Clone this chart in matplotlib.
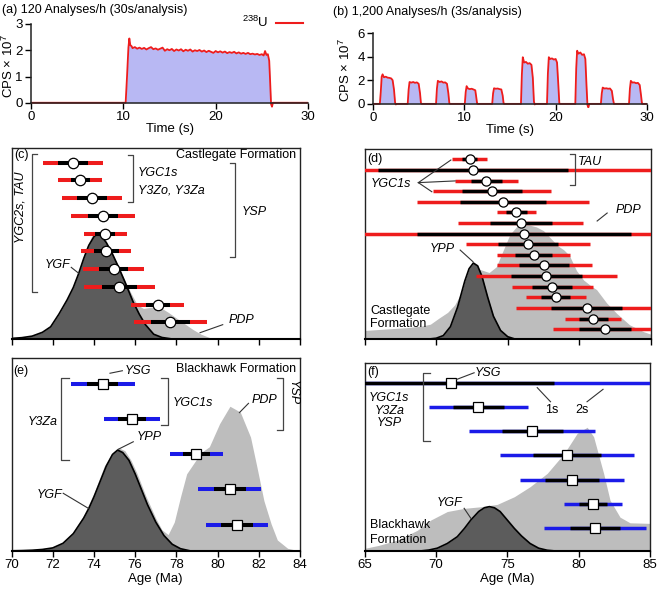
import matplotlib

matplotlib.use("Agg")
import matplotlib.pyplot as plt
import numpy as np

plt.rcParams["font.family"] = ["Liberation Sans", "DejaVu Sans"]
plt.rcParams["font.size"] = 9
plt.rcParams["mathtext.fontset"] = "custom"
plt.rcParams["mathtext.rm"] = "Liberation Sans"

RED = "#ee1c1c"
BLUE = "#1b1be8"
DARK = "#5c5c5c"
LIGHT = "#bdbdbd"
FILL = "#b8b8f3"
LINE = "#333333"

# (a) single 30 s analysis, 238U counts (x 1e7)
a_time = [0.0, 10.25, 10.4, 10.55, 10.65, 10.75, 10.9,
          11.0, 11.25, 11.5, 11.75, 12.0, 12.25, 12.5, 12.75,
          13.0, 13.25, 13.5, 13.75, 14.0, 14.25, 14.5, 14.75,
          15.0, 15.25, 15.5, 15.75, 16.0, 16.25, 16.5, 16.75,
          17.0, 17.25, 17.5, 17.75, 18.0, 18.25, 18.5, 18.75,
          19.0, 19.25, 19.5, 19.75, 20.0, 20.25, 20.5, 20.75,
          21.0, 21.25, 21.5, 21.75, 22.0, 22.25, 22.5, 22.75,
          23.0, 23.25, 23.5, 23.75, 24.0, 24.25, 24.5, 24.75,
          25.0, 25.2, 25.35, 25.5, 25.65, 25.8, 25.9, 26.0, 26.1, 26.2, 30.0]
a_cps = [0.0, 0.0, 1.0, 2.1, 2.45, 2.2, 2.15,
         2.08, 2.12, 2.06, 2.10, 2.05, 2.09, 2.03, 2.08,
         2.12, 2.04, 2.07, 2.02, 2.06, 2.10, 1.98, 2.04,
         2.00, 2.05, 1.97, 2.03, 1.99, 2.04, 1.96, 2.02,
         1.98, 2.03, 1.95, 2.00, 1.97, 2.01, 1.95, 1.99,
         1.93, 1.98, 1.94, 1.90, 1.97, 1.92, 1.96, 1.91,
         1.95, 1.89, 1.93, 1.90, 1.94, 1.88, 1.92, 1.87,
         1.90, 1.86, 1.90, 1.85, 1.87, 1.84, 1.86, 1.82,
         1.85, 1.80, 1.97, 1.82, 1.85, 1.60, 0.80, -0.05, -0.15, 0.0, 0.0]

# (b) ten 3 s analyses
b_time = [0.0, 0.75, 0.85, 0.95, 1.05, 1.2, 1.4, 1.6, 1.8, 2.0, 2.15, 2.3, 2.42, 2.5, 2.6,
          3.8, 3.9, 4.0, 4.2, 4.4, 4.6, 4.8, 5.0, 5.15, 5.25, 5.35,
          6.9, 7.0, 7.1, 7.3, 7.5, 7.7, 7.9, 8.1, 8.25, 8.36, 8.45,
          10.05, 10.15, 10.25, 10.4, 10.6, 10.8, 11.0, 11.2, 11.3, 11.4, 11.5,
          13.05, 13.15, 13.25, 13.45, 13.65, 13.85, 14.05, 14.2, 14.3, 14.4,
          16.2, 16.3, 16.4, 16.55, 16.75, 16.95, 17.15, 17.35, 17.5, 17.62, 17.7, 17.8,
          19.05, 19.15, 19.25, 19.4, 19.6, 19.8, 20.0, 20.15, 20.3, 20.4, 20.5,
          22.15, 22.25, 22.35, 22.5, 22.7, 22.9, 23.1, 23.25, 23.38, 23.48, 23.58, 23.68,
          24.95, 25.05, 25.15, 25.35, 25.55, 25.75, 25.95, 26.15, 26.28, 26.38, 26.5,
          28.03, 28.13, 28.23, 28.4, 28.6, 28.8, 29.0, 29.2, 29.35, 29.45, 29.55, 30.0]
b_cps = [0.0, 0.0, 1.0, 2.3, 2.5, 2.25, 2.3, 2.22, 2.2, 2.15, 2.0, 1.2, 0.1, -0.05, 0.0,
         0.0, 1.2, 1.85, 1.8, 1.85, 1.78, 1.82, 1.7, 0.9, 0.05, 0.0,
         0.0, 1.3, 1.95, 1.85, 1.9, 1.8, 1.82, 1.7, 0.9, 0.05, 0.0,
         0.0, 1.0, 1.5, 1.3, 1.25, 1.28, 1.22, 1.15, 0.6, 0.02, 0.0,
         0.0, 0.9, 1.32, 1.28, 1.3, 1.25, 1.22, 0.7, 0.03, 0.0,
         0.0, 2.5, 3.95, 3.5, 3.55, 3.4, 3.45, 3.3, 2.2, 0.2, -0.05, 0.0,
         0.0, 2.6, 3.95, 3.8, 3.85, 3.75, 3.8, 3.5, 1.5, 0.05, 0.0,
         0.0, 3.0, 4.5, 4.25, 4.35, 4.15, 4.2, 3.8, 1.5, -0.1, -0.3, 0.0,
         0.0, 0.9, 1.38, 1.3, 1.32, 1.28, 1.3, 1.1, 0.4, 0.0, 0.0,
         0.0, 1.3, 1.95, 1.8, 1.82, 1.75, 1.78, 1.6, 0.7, 0.02, 0.0, 0.0]

# (c) Castlegate, 30 s analyses: age, 1s, 2s (Ma)
c_age = [73.0, 73.33, 73.90, 74.43, 74.55, 74.59, 74.95, 75.24, 77.09, 77.71]
c_1s = [0.73, 0.46, 0.72, 0.73, 0.49, 0.61, 0.68, 0.85, 0.58, 0.93]
c_2s = [1.46, 1.05, 1.45, 1.54, 1.05, 1.20, 1.48, 1.73, 1.28, 1.77]
c_pdp_age = [70.0, 70.5, 71.0, 71.5, 72.0, 72.4, 72.7, 73.0, 73.3, 73.6, 73.9, 74.15, 74.4,
             74.7, 75.0, 75.4, 75.8, 76.1, 76.4, 76.7, 77.0, 77.3, 77.6, 78.0, 78.4, 78.8,
             79.2, 79.6, 80.0, 84.0]
c_pdp = [0.004, 0.008, 0.018, 0.038, 0.08, 0.14, 0.21, 0.28, 0.37, 0.47, 0.54, 0.555, 0.53,
         0.48, 0.42, 0.33, 0.24, 0.18, 0.16, 0.165, 0.17, 0.16, 0.14, 0.11, 0.08, 0.05,
         0.025, 0.008, 0.0, 0.0]
c_ygf_age = [70.0, 70.5, 71.0, 71.5, 71.9, 72.3, 72.7, 73.0, 73.25, 73.5, 73.75, 74.0, 74.15,
             74.35, 74.6, 74.9, 75.2, 75.5, 75.9, 76.2, 76.5, 76.9, 77.3, 77.8, 84.0]
c_ygf = [0.003, 0.007, 0.015, 0.035, 0.064, 0.13, 0.205, 0.27, 0.34, 0.42, 0.49, 0.535, 0.548,
         0.54, 0.505, 0.445, 0.375, 0.3, 0.195, 0.13, 0.075, 0.025, 0.008, 0.0, 0.0]

# (d) Castlegate, 3 s analyses
d_age = [72.34, 72.57, 73.51, 73.90, 74.67, 75.61, 75.91, 76.15, 76.43, 76.82, 77.54,
         77.70, 78.12, 78.36, 80.50, 80.97, 81.78]
d_1s = [0.52, 6.64, 1.10, 2.07, 3.03, 0.70, 2.16, 7.46, 2.10, 1.28, 1.72, 2.45, 1.40, 1.01,
        2.45, 1.01, 1.81]
d_2s = [1.22, 13.3, 2.19, 4.14, 6.0, 1.34, 4.37, 14.9, 4.31, 2.56, 3.32, 4.9, 2.82, 2.12,
        4.9, 1.95, 3.6]
d_pdp_age = [65.0, 66.0, 67.0, 68.0, 69.0, 69.6, 70.2, 70.8, 71.3, 71.8, 72.3, 72.9, 73.3,
             73.7, 74.2, 74.7, 75.15, 75.6, 76.0, 76.5, 77.0, 77.5, 78.0, 78.5, 78.9, 79.3,
             79.8, 80.3, 80.8, 81.2, 81.9, 82.6, 83.5, 84.5, 85.0]
d_pdp = [0.045, 0.05, 0.055, 0.06, 0.068, 0.078, 0.11, 0.14, 0.18, 0.25, 0.33, 0.37, 0.36,
         0.35, 0.38, 0.47, 0.55, 0.59, 0.60, 0.60, 0.59, 0.57, 0.53, 0.49, 0.47, 0.44, 0.36,
         0.31, 0.28, 0.26, 0.19, 0.135, 0.075, 0.038, 0.025]
d_ypp_age = [65.0, 69.5, 70.0, 70.5, 71.0, 71.5, 72.0, 72.3, 72.6, 72.9, 73.2, 73.6, 74.0,
             74.5, 75.0, 75.5, 85.0]
d_ypp = [0.0, 0.0, 0.004, 0.018, 0.065, 0.168, 0.305, 0.37, 0.40, 0.385, 0.33, 0.22, 0.12,
         0.045, 0.012, 0.0, 0.0]

# (e) Blackhawk, 30 s analyses
e_age = [74.43, 75.84, 78.97, 80.59, 80.95]
e_1s = [0.75, 0.69, 0.67, 0.77, 0.77]
e_2s = [1.54, 1.36, 1.27, 1.54, 1.50]
e_pdp_age = [70.0, 71.0, 72.0, 72.5, 73.0, 73.5, 74.0, 74.5, 74.9, 75.2, 75.5, 75.8, 76.1,
             76.5, 77.0, 77.3, 77.6, 77.9, 78.2, 78.5, 79.2, 79.6, 80.1, 80.6, 81.1, 81.6,
             81.9, 82.25, 82.6, 82.9, 83.4, 84.0]
e_pdp = [0.001, 0.005, 0.02, 0.045, 0.1, 0.185, 0.30, 0.44, 0.51, 0.535, 0.52, 0.47, 0.40,
         0.29, 0.17, 0.11, 0.085, 0.15, 0.28, 0.40, 0.51, 0.54, 0.66, 0.75, 0.72, 0.59, 0.44,
         0.26, 0.14, 0.057, 0.014, 0.0]
e_ygf_age = [70.0, 70.5, 71.0, 71.5, 72.0, 72.5, 73.0, 73.5, 73.75, 74.0, 74.3, 74.6, 74.9,
             75.15, 75.4, 75.7, 76.0, 76.3, 76.6, 77.0, 77.4, 77.8, 78.2, 78.7, 84.0]
e_ygf = [0.001, 0.002, 0.004, 0.008, 0.016, 0.04, 0.09, 0.17, 0.22, 0.28, 0.36, 0.44, 0.50,
         0.523, 0.51, 0.47, 0.40, 0.32, 0.24, 0.15, 0.08, 0.035, 0.012, 0.0, 0.0]

# (f) Blackhawk, 3 s analyses
f_age = [71.05, 72.98, 76.75, 79.19, 79.54, 81.00, 81.17]
f_1s = [7.21, 1.80, 2.13, 2.37, 1.88, 0.99, 1.74]
f_2s = [14.4, 3.49, 4.42, 4.67, 3.67, 2.03, 3.57]
f_pdp_age = [65.0, 66.0, 67.3, 68.7, 69.65, 70.8, 72.0, 73.1, 74.3, 75.5, 76.6, 77.8, 79.0,
             79.9, 80.6, 81.05, 81.75, 82.2, 82.9, 83.6, 85.0]
f_pdp = [0.014, 0.03, 0.058, 0.11, 0.165, 0.21, 0.227, 0.235, 0.248, 0.289, 0.342, 0.413,
         0.52, 0.626, 0.658, 0.608, 0.413, 0.27, 0.18, 0.15, 0.147]
f_ygf_age = [65.0, 69.0, 69.5, 70.1, 70.8, 71.5, 72.0, 72.45, 73.0, 73.4, 73.75, 74.1, 74.5,
             75.0, 75.5, 76.0, 76.6, 77.2, 77.8, 78.4, 85.0]
f_ygf = [0.0, 0.001, 0.005, 0.015, 0.04, 0.076, 0.12, 0.165, 0.21, 0.23, 0.236, 0.23, 0.21,
         0.165, 0.12, 0.08, 0.04, 0.015, 0.004, 0.0, 0.0]


def signal_axis(ax, t, v, yticks, label_x):
    t = np.asarray(t)
    v = np.asarray(v)
    ax.fill_between(t, np.maximum(v, 0), 0, color=FILL, lw=0)
    ax.plot(t, v, color=RED, lw=1.3, solid_joinstyle="round")
    ax.set_xlim(0, 30)
    ax.set_xticks([0, 10, 20, 30])
    ax.set_yticks(yticks)
    ax.spines[["top", "right"]].set_visible(False)
    ax.spines["bottom"].set_position(("data", 0))
    ax.spines["left"].set_bounds(yticks[0], yticks[-1])
    for s in ("left", "bottom"):
        ax.spines[s].set_color("#222")
        ax.spines[s].set_linewidth(1.1)
        ax.spines[s].set_zorder(5)
    ax.tick_params(direction="out", length=4, width=1, labelsize=9.5, pad=2)
    ax.set_xlabel("Time (s)", fontsize=9.5, labelpad=0)
    ax.set_ylabel("CPS × 10$^7$", fontsize=9.5)
    ax.yaxis.set_label_coords(label_x, 0.5)


def age_axis(ax, lo, hi, step, labels):
    ax.set_xlim(lo, hi)
    ax.set_ylim(0, 1)
    ax.set_yticks([])
    ax.set_xticks(np.arange(lo, hi + 0.1, step))
    ax.tick_params(axis="x", direction="out", length=4, width=1, labelsize=9.5, pad=2)
    if not labels:
        ax.set_xticklabels([])
    else:
        ax.set_xlabel("Age (Ma)", fontsize=9.5, labelpad=1)
    for s in ax.spines.values():
        s.set_linewidth(1)
        s.set_color("#222")
    ax.spines["bottom"].set_linewidth(1.5)
    ax.spines["bottom"].set_color("black")


def densities(ax, px, py, gx, gy):
    ax.fill_between(px, py, 0, color=LIGHT, lw=0, zorder=1)
    ax.fill_between(gx, gy, 0, color=DARK, lw=0, zorder=2)
    ax.plot(gx, gy, color="black", lw=1.2, zorder=2.5)


def grains(ax, ages, e1, e2, top, step, color, marker, ms, lw):
    ys = top - step * np.arange(len(ages))
    for i, (a, s1, s2, y) in enumerate(zip(ages, e1, e2, ys)):
        z = 3 + i * 0.1
        ax.hlines(y, a - s2, a + s2, color=color, lw=lw, zorder=z)
        ax.hlines(y, a - s1, a + s1, color="black", lw=lw, zorder=z + 0.01)
        ax.plot([a], [y], marker=marker, ms=ms, mfc="white", mec="black", mew=0.9,
                zorder=z + 0.02)


def bracket(ax, x, y0, y1, tick):
    ax.plot([x + tick, x, x, x + tick], [y0, y0, y1, y1], color="#444", lw=0.9, zorder=6)


def leader(ax, p0, p1):
    ax.plot([p0[0], p1[0]], [p0[1], p1[1]], color=LINE, lw=0.8, zorder=6)


def label(ax, x, y, s, ha="left", italic=True, **kw):
    ax.text(x, y, s, ha=ha, va="center", fontsize=9, style="italic" if italic else "normal",
            zorder=7, **kw)


fig = plt.figure(figsize=(6.58, 5.89), dpi=100)
W, H = 658, 589


def add_axes(x0, x1, y0, y1):
    return fig.add_axes([x0 / W, 1 - y1 / H, (x1 - x0) / W, (y1 - y0) / H])


# (a)
ax_a = add_axes(31, 308, 24, 108)
signal_axis(ax_a, a_time, a_cps, [0, 1, 2, 3], -0.055)
ax_a.set_ylim(-0.2, 3.0)
ax_a.plot([], [], color=RED, lw=1.5, label="$^{238}$U")
ax_a.legend(loc="upper right", bbox_to_anchor=(0.985, 1.12), frameon=False, markerfirst=False,
            fontsize=9.5, handlelength=2.0, handletextpad=0.6, borderpad=0.1, borderaxespad=0)
fig.text(2 / W, 1 - 10 / H, "(a) 120 Analyses/h (30s/analysis)", fontsize=9, va="center")

# (b)
ax_b = add_axes(373, 647, 33, 108)
signal_axis(ax_b, b_time, b_cps, [0, 2, 4, 6], -0.072)
ax_b.set_ylim(-0.35, 6.0)
fig.text(333 / W, 1 - 12.5 / H, "(b) 1,200 Analyses/h (3s/analysis)", fontsize=9, va="center")

# (c)
ax_c = add_axes(11.5, 300, 148, 339)
age_axis(ax_c, 70, 84, 2, False)
densities(ax_c, c_pdp_age, c_pdp, c_ygf_age, c_ygf)
grains(ax_c, c_age, c_1s, c_2s, 0.923, 0.0928, RED, "o", 7.5, 2.9)
label(ax_c, 70.12, 0.963, "(c)", italic=False)
label(ax_c, 83.8, 0.963, "Castlegate Formation", ha="right", italic=False)
bracket(ax_c, 70.98, 0.969, 0.248, 0.25)
ax_c.text(70.45, 0.688, "YGC2s, TAU", rotation=90, ha="center", va="center", fontsize=9,
          style="italic")
bracket(ax_c, 75.88, 0.963, 0.719, -0.25)
label(ax_c, 76.14, 0.869, "YGC1s")
label(ax_c, 76.14, 0.78, "Y3Zo, Y3Za")
bracket(ax_c, 80.85, 0.923, 0.431, -0.25)
label(ax_c, 81.17, 0.666, "YSP")
label(ax_c, 72.85, 0.39, "YGF", ha="right")
leader(ax_c, (72.9, 0.375), (73.25, 0.345))
label(ax_c, 80.55, 0.10, "PDP")
leader(ax_c, (79.15, 0.033), (80.25, 0.075))

# (d)
ax_d = add_axes(364.5, 651, 149, 339)
age_axis(ax_d, 65, 85, 5, False)
densities(ax_d, d_pdp_age, d_pdp, d_ypp_age, d_ypp)
grains(ax_d, d_age, d_1s, d_2s, 0.946, 0.0559, RED, "o", 6.6, 2.5)
label(ax_d, 65.2, 0.946, "(d)", italic=False)
bracket(ax_d, 79.72, 0.974, 0.81, -0.35)
label(ax_d, 79.93, 0.933, "TAU")
label(ax_d, 65.45, 0.814, "YGC1s")
for tip in [(71.03, 0.942), (71.33, 0.832), (69.7, 0.775)]:
    leader(ax_d, (68.76, 0.823), tip)
label(ax_d, 82.5, 0.679, "PDP")
leader(ax_d, (81.24, 0.621), (81.94, 0.663))
label(ax_d, 71.3, 0.472, "YPP", ha="right")
leader(ax_d, (71.68, 0.468), (72.57, 0.407))
label(ax_d, 65.38, 0.149, "Castlegate", italic=False)
label(ax_d, 65.38, 0.079, "Formation", italic=False)

# (e)
ax_e = add_axes(11.5, 300, 358, 551)
age_axis(ax_e, 70, 84, 2, True)
densities(ax_e, e_pdp_age, e_pdp, e_ygf_age, e_ygf)
grains(ax_e, e_age, e_1s, e_2s, 0.865, 0.182, BLUE, "s", 7.2, 2.9)
label(ax_e, 70.1, 0.934, "(e)", italic=False)
label(ax_e, 83.8, 0.941, "Blackhawk Formation", ha="right", italic=False)
label(ax_e, 75.5, 0.934, "YSG")
leader(ax_e, (74.78, 0.921), (75.38, 0.934))
bracket(ax_e, 72.4, 0.895, 0.472, 0.4)
label(ax_e, 70.8, 0.67, "Y3Za")
bracket(ax_e, 77.58, 0.895, 0.653, -0.32)
label(ax_e, 77.8, 0.768, "YGC1s")
bracket(ax_e, 83.19, 0.895, 0.627, -0.3)
ax_e.text(83.65, 0.819, "YSP", rotation=270, ha="center", va="center", fontsize=9,
          style="italic")
label(ax_e, 81.66, 0.782, "PDP")
leader(ax_e, (81.06, 0.717), (81.5, 0.765))
label(ax_e, 76.08, 0.589, "YPP")
leader(ax_e, (75.18, 0.527), (75.91, 0.566))
label(ax_e, 71.22, 0.29, "YGF")
leader(ax_e, (72.51, 0.299), (73.73, 0.221))

# (f)
ax_f = add_axes(364.5, 650, 363, 551)
age_axis(ax_f, 65, 85, 5, True)
densities(ax_f, f_pdp_age, f_pdp, f_ygf_age, f_ygf)
grains(ax_f, f_age, f_1s, f_2s, 0.892, 0.128, BLUE, "s", 6.8, 2.5)
label(ax_f, 65.2, 0.954, "(f)", italic=False)
label(ax_f, 72.72, 0.948, "YSG")
leader(ax_f, (71.47, 0.913), (72.68, 0.948))
bracket(ax_f, 69.08, 0.948, 0.587, 0.5)
ax_f.text(66.74, 0.746, "YGC1s\nY3Za\nYSP", ha="center", va="center", fontsize=9,
          style="italic", linespacing=1.05, zorder=7)
label(ax_f, 78.15, 0.75, "1s", ha="center", italic=False)
leader(ax_f, (77.1, 0.869), (78.03, 0.794))
label(ax_f, 80.24, 0.75, "2s", ha="center", italic=False)
leader(ax_f, (81.71, 0.86), (80.59, 0.794))
label(ax_f, 71.87, 0.254, "YGF", ha="right")
leader(ax_f, (71.98, 0.227), (72.45, 0.174))
label(ax_f, 65.42, 0.138, "Blackhawk", italic=False)
label(ax_f, 65.42, 0.059, "Formation", italic=False)

fig.savefig("out.png", dpi=100)
plt.close(fig)
